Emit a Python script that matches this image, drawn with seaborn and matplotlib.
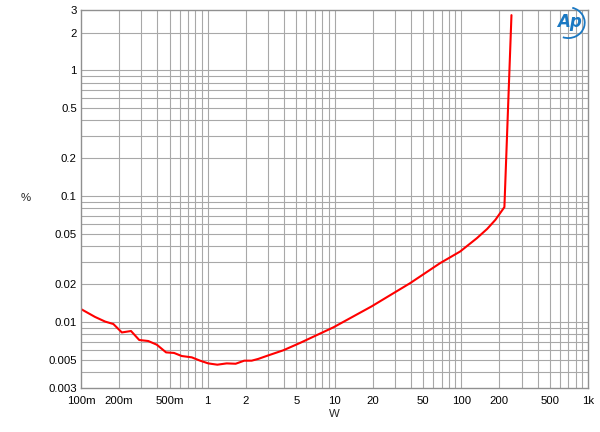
import numpy as np
import pandas as pd
import matplotlib
matplotlib.use("Agg")
import matplotlib.pyplot as plt
from matplotlib.patches import Arc
import seaborn as sns

# =========================
# DATA
# =========================
power_w = [0.1, 0.129, 0.155, 0.18, 0.21, 0.248, 0.288, 0.339, 0.396, 0.469,
           0.542, 0.623, 0.748, 0.87, 1.01, 1.19, 1.41, 1.66, 1.94, 2.22,
           2.5, 3.0, 3.94, 5.34, 9.8, 19.6, 39.5, 68, 98, 133, 160, 186,
           219, 249]
thd_pct = [0.0127, 0.0110, 0.0101, 0.00966, 0.00828, 0.0085, 0.00721, 0.00708,
           0.00662, 0.00575, 0.00569, 0.00538, 0.00525, 0.00494, 0.0047, 0.00459,
           0.0047, 0.00467, 0.00494, 0.00494, 0.0051, 0.00544, 0.00597, 0.00683,
           0.00909, 0.01333, 0.0204, 0.0294, 0.0364, 0.0465, 0.055, 0.065,
           0.082, 2.75]

x_ticks = [0.1, 0.2, 0.5, 1, 2, 5, 10, 20, 50, 100, 200, 500, 1000]
x_labels = ["100m", "200m", "500m", "1", "2", "5", "10", "20", "50", "100", "200", "500", "1k"]
y_ticks = [0.003, 0.005, 0.01, 0.02, 0.05, 0.1, 0.2, 0.5, 1, 2, 3]
y_labels = ["0.003", "0.005", "0.01", "0.02", "0.05", "0.1", "0.2", "0.5", "1", "2", "3"]

df = pd.DataFrame({"W": power_w, "pct": thd_pct})

# =========================
# PLOT
# =========================
sns.set_style("white")
plt.rcParams["font.family"] = ["Liberation Sans", "DejaVu Sans"]

fig = plt.figure(figsize=(6, 4.32), dpi=100)
ax = fig.add_axes([0.135, 0.102, 0.845, 0.874])

ax.set_xscale("log")
ax.set_yscale("log")

# grid lines at every 1-2-...-9 step
grid_c = "#a8a8a8"
for d in [0.1, 1, 10, 100]:
    for m in range(1, 10):
        v = d * m
        if 0.1 < v < 1000:
            ax.axvline(v, color=grid_c, lw=0.8, zorder=0)
for d in [0.001, 0.01, 0.1, 1]:
    for m in range(1, 10):
        v = d * m
        if 0.003 < v < 3:
            ax.axhline(v, color=grid_c, lw=0.8, zorder=0)

sns.lineplot(data=df, x="W", y="pct", color="#ff0000", lw=1.5, ax=ax,
             sort=False, estimator=None)

ax.set_xlim(0.1, 1000)
ax.set_ylim(0.003, 3)
ax.set_xticks(x_ticks)
ax.set_xticklabels(x_labels)
ax.set_yticks(y_ticks)
ax.set_yticklabels(y_labels)
ax.minorticks_off()
ax.tick_params(axis="both", length=0, labelsize=8.2, colors="black")
ax.tick_params(axis="x", pad=6)
ax.tick_params(axis="y", pad=3)

for s in ax.spines.values():
    s.set_color("#909090")
    s.set_linewidth(1.0)

ax.set_xlabel("W", fontsize=8.2, labelpad=2)
ax.set_ylabel("")
fig.text(0.042, 0.542, "%", fontsize=8.2, ha="center", va="center")

# Ap logo
fig.text(0.949, 0.95, "Ap", fontsize=12, color="#1a78c2", style="italic",
         weight="bold", ha="center", va="center", family="DejaVu Sans")
logo_ax = fig.add_axes([0.925, 0.91, 0.055, 0.075])
logo_ax.axis("off")
logo_ax.add_patch(Arc((0.4, 0.5), 1.0, 0.95, theta1=-110, theta2=75,
                      color="#1a78c2", lw=1.3))
logo_ax.set_xlim(0, 1)
logo_ax.set_ylim(0, 1)

fig.savefig("out.png", dpi=100)
